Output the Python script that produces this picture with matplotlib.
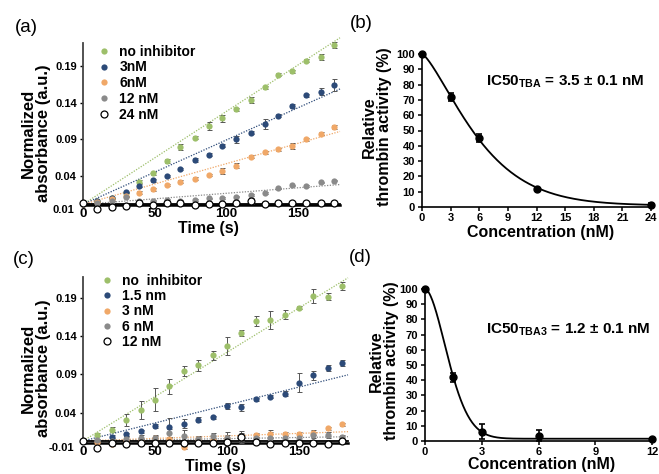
import numpy as np
import matplotlib
matplotlib.use("Agg")
from matplotlib import pyplot as plt

plt.rcParams['font.family'] = ['Liberation Sans', 'DejaVu Sans']
plt.rcParams['font.weight'] = 'bold'
plt.rcParams['mathtext.fontset'] = 'custom'
plt.rcParams['mathtext.rm'] = 'Liberation Sans:bold'
plt.rcParams['mathtext.bf'] = 'Liberation Sans:bold'

GREEN = '#9dbf6a'
BLUE = '#2c4a78'
ORANGE = '#f0a868'
GRAY = '#8a8a8a'

###############################
### panel (a) data
times_a = [0, 10, 20, 30, 39, 49, 59, 68, 78, 88, 97, 107, 117, 127, 136, 146, 156, 166, 175]
green_a = [0.0012, 0.0058, 0.0099, 0.0167, 0.0322, 0.0437, 0.0601, 0.0793, 0.0921, 0.1085,
           0.119, 0.1314, 0.1445, 0.1615, 0.1788, 0.1834, 0.1976, 0.2034, 0.2195]
blue_a = [0.0012, 0.0058, 0.0099, 0.0177, 0.0267, 0.0341, 0.040, 0.0496, 0.0615, 0.0688,
          0.0815, 0.0903, 0.0989, 0.1108, 0.1222, 0.1359, 0.1503, 0.1555, 0.1644]
orange_a = [0.0012, 0.0044, 0.0085, 0.0126, 0.0171, 0.0218, 0.0277, 0.0323, 0.0363, 0.0414,
            0.0473, 0.0541, 0.0664, 0.0724, 0.0765, 0.081, 0.0903, 0.098, 0.1067]
gray_a = [0.0012, 0.0037, 0.0064, 0.0112, 0.0058, 0.0064, 0.0071, 0.0064, 0.0071, 0.0092,
          0.0099, 0.0119, 0.014, 0.0167, 0.0229, 0.027, 0.0263, 0.0311, 0.0336]
open_a = [0.003, -0.0048, -0.0025, -0.0016, 0.003, 0.0007, 0.003, 0.003, 0.0007, 0.0012,
          0.0012, 0.003, 0.0058, 0.0012, 0.003, 0.003, 0.0035, 0.003, 0.0035]
green_a_err = [0, 0, 0, 0, 0.002, 0.002, 0.003, 0.004, 0.002, 0.006, 0.005, 0.002, 0.004,
               0.002, 0.002, 0.002, 0.002, 0.004, 0.004]
blue_a_err = [0, 0, 0, 0, 0.002, 0.002, 0.002, 0.002, 0.003, 0.002, 0.002, 0.005, 0.002,
              0.007, 0.002, 0.003, 0.002, 0.005, 0.008]
orange_a_err = [0, 0, 0, 0, 0.002, 0.002, 0.002, 0.002, 0.002, 0.002, 0.004, 0.003, 0.002,
                0.002, 0.002, 0.004, 0.002, 0.002, 0.003]
gray_a_err = [0, 0, 0, 0, 0.002, 0.001, 0.001, 0.001, 0.001, 0.001, 0.001, 0.001, 0.001,
              0.001, 0.001, 0.001, 0.001, 0.001, 0.001]
open_a_err = [0, 0, 0, 0, 0.002, 0, 0, 0, 0, 0, 0, 0, 0.004, 0, 0, 0, 0, 0, 0]
# linear fits (start value, slope per s)
fit_start_a = 0.0012
fit_slopes_a = [0.00127, 0.00088, 0.000556, 0.000151, 0.0]
labels_a = ['no inhibitor', '3nM', '6nM', '12 nM', '24 nM']

###############################
### panel (c) data
times_c = [0, 10, 20, 30, 40, 50, 60, 70, 80, 90, 100, 110, 120, 130, 140, 150, 160, 170, 180]
green_c = [0.003, 0.0112, 0.0177, 0.03, 0.0439, 0.057, 0.0746, 0.0946, 0.102, 0.1151,
           0.1273, 0.1439, 0.16, 0.1613, 0.1679, 0.1774, 0.1928, 0.1918, 0.2059]
blue_c = [0.003, 0.0023, 0.0088, 0.0117, 0.0154, 0.0223, 0.0206, 0.0255, 0.0307, 0.0341,
          0.0485, 0.0468, 0.0575, 0.0606, 0.0649, 0.0793, 0.0891, 0.0981, 0.1055]
orange_c = [0.003, 0.0016, -0.0014, 0.0043, 0.003, 0.0062, 0.0056, -0.0049, 0.0056, 0.0043,
            0.0062, 0.0075, 0.0108, 0.0121, 0.0121, 0.0121, 0.0138, 0.0196, 0.0248]
gray_c = [0.003, 0.004, 0.0035, 0.005, 0.0065, 0.0065, 0.013, 0.009, 0.006, 0.009,
          0.007, 0.008, 0.0065, 0.0065, 0.0065, 0.0065, 0.0108, 0.0108, 0.008]
open_c = [0.003, -0.0058, 0.0, -0.001, 0.0, 0.0, 0.0, 0.0, 0.0003, 0.0003,
          0.001, 0.008, 0.001, -0.001, 0.0, 0.0003, 0.0, -0.0005, 0.0023]
green_c_err = [0, 0.002, 0.003, 0.008, 0.012, 0.015, 0.01, 0.006, 0.007, 0.006, 0.012, 0.004,
               0.006, 0.012, 0.006, 0.002, 0.009, 0.005, 0.005]
blue_c_err = [0, 0.002, 0.002, 0.002, 0.002, 0.003, 0.012, 0.006, 0.003, 0.002, 0.004, 0.005,
              0.002, 0.002, 0.003, 0.012, 0.006, 0.004, 0.004]
orange_c_err = [0, 0.002, 0.002, 0.004, 0.003, 0.003, 0.003, 0.002, 0.003, 0.003, 0.004, 0.004,
                0.003, 0.005, 0.003, 0.003, 0.003, 0.002, 0.002]
gray_c_err = [0, 0.002, 0.002, 0.004, 0.004, 0.004, 0.006, 0.008, 0.004, 0.004, 0.008, 0.008,
              0.004, 0.008, 0.004, 0.004, 0.004, 0.004, 0.003]
open_c_err = [0, 0, 0, 0, 0, 0, 0, 0, 0, 0, 0.003, 0.005, 0, 0, 0, 0, 0, 0, 0]
fit_start_c = 0.003
fit_slopes_c = [0.00116, 0.00047, 0.000066, 0.00003, 0.0]
labels_c = ['no  inhibitor', '1.5 nm', '3 nM', '6 nM', '12 nM']

###############################
### panels (b) and (d) data
conc_b = [0, 3, 6, 12, 24]
act_b = [100, 72, 45, 12, 1.5]
err_b = [0.5, 2.5, 2.5, 1.0, 1.0]
curve_b = {'top': 100, 'bottom': 1.0, 'scale': 6.85, 'power': 1.35}

conc_d = [0, 1.5, 3, 6, 12]
act_d = [100, 42, 6, 3.5, 1.5]
err_d = [0.5, 3, 5, 3.5, 0.5]
curve_d = {'top': 100, 'bottom': 1.5, 'scale': 1.6, 'power': 1.8}

W, H = 659, 474
fig = plt.figure(figsize=(W / 100, H / 100), dpi=100)


def px_axes(left, top, right, bottom):
    return fig.add_axes([left / W, 1 - bottom / H, (right - left) / W, (bottom - top) / H])


def kinetics(ax, times, series, errs, slopes, start, labels, xmax, ylim, bottom_label):
    colors = [GREEN, BLUE, ORANGE, GRAY, 'black']
    tfit = np.array([0, xmax])
    for i in range(5):
        ls = '-' if i == 4 else (0, (1, 1.2))
        ax.plot(tfit, start + slopes[i] * tfit, ls=ls, color=colors[i],
                lw=1.3 if i == 4 else 0.9, zorder=2, clip_on=False)
    for i in range(5):
        ax.errorbar(times, series[i], yerr=errs[i], fmt='none', ecolor='#555555',
                    elinewidth=0.7, capsize=1.8, capthick=0.7, zorder=3, clip_on=False)
    for i in range(5):
        if i == 4:
            ax.plot(times, series[i], 'o', ms=5, mfc='white', mec='black', mew=0.9,
                    label=labels[i], zorder=4, clip_on=False)
        else:
            ax.plot(times, series[i], 'o', ms=4.5, color=colors[i], mec='none',
                    label=labels[i], zorder=4, clip_on=False)
    ax.set_xlim(0, xmax)
    ax.set_ylim(*ylim)
    ax.set_xticks([0, 50, 100, 150])
    ax.set_yticks([0.04, 0.09, 0.14, 0.19])
    ax.set_yticklabels(['0.04', '0.09', '0.14', '0.19'])
    ax.tick_params(axis='y', labelsize=8, length=2.5, width=1, pad=2)
    ax.tick_params(axis='x', labelsize=9.5, length=0, pad=2.5)
    ax.text(-0.035, 0.0, bottom_label, transform=ax.transAxes, ha='right', va='top',
            fontsize=8)
    for s in ['top', 'right']:
        ax.spines[s].set_visible(False)
    ax.spines['left'].set_linewidth(1.3)
    ax.spines['left'].set_color('#444444')
    ax.spines['bottom'].set_linewidth(1.8)
    ax.patch.set_alpha(0)


def inhibition(ax, conc, act, err, pars, xmax, xticks):
    xs = np.linspace(0, xmax, 400)
    ys = pars['bottom'] + (pars['top'] - pars['bottom']) * np.exp(-(xs / pars['scale']) ** pars['power'])
    ax.plot(xs, ys, color='black', lw=1.3, clip_on=False)
    ax.errorbar(conc, act, yerr=err, fmt='o', color='black', ms=5, elinewidth=1.2,
                capsize=2.5, capthick=1.2, clip_on=False)
    ax.set_xlim(0, xmax)
    ax.set_ylim(0, 100)
    ax.set_xticks(xticks)
    ax.set_yticks(range(0, 101, 10))
    ax.tick_params(axis='both', length=3, width=1.1, pad=2)
    ax.tick_params(axis='y', labelsize=8)
    ax.tick_params(axis='x', labelsize=8, pad=1.5)
    for s in ['top', 'right']:
        ax.spines[s].set_visible(False)
    for s in ['left', 'bottom']:
        ax.spines[s].set_linewidth(1.2)


ax_a = px_axes(83, 43, 340, 205)
kinetics(ax_a, times_a, [green_a, blue_a, orange_a, gray_a, open_a],
         [green_a_err, blue_a_err, orange_a_err, gray_a_err, open_a_err],
         fit_slopes_a, fit_start_a, labels_a, 179.5, (0.0003, 0.222), '0.01')
ax_a.legend(loc='upper left', bbox_to_anchor=(0.06, 0.99), frameon=False, fontsize=10,
            handlelength=0.8, handletextpad=0.7, labelspacing=0.13, borderpad=0,
            borderaxespad=0)

ax_c = px_axes(83, 277, 348, 443)
kinetics(ax_c, times_c, [green_c, blue_c, orange_c, gray_c, open_c],
         [green_c_err, blue_c_err, orange_c_err, gray_c_err, open_c_err],
         fit_slopes_c, fit_start_c, labels_c, 184, (0.0003, 0.2175), '-0.01')
ax_c.legend(loc='upper left', bbox_to_anchor=(0.07, 1.02), frameon=False, fontsize=10,
            handlelength=0.8, handletextpad=0.7, labelspacing=0.1, borderpad=0,
            borderaxespad=0)

ax_b = px_axes(422, 54, 651, 207)
inhibition(ax_b, conc_b, act_b, err_b, curve_b, 24, [0, 3, 6, 9, 12, 15, 18, 21, 24])
ax_b.text(0.28, 0.82, r'IC50$_{\mathbf{TBA}}$ = 3.5 $\pm$ 0.1 nM', transform=ax_b.transAxes,
          fontsize=11, va='center')

ax_d = px_axes(425, 289, 652, 441)
inhibition(ax_d, conc_d, act_d, err_d, curve_d, 12, [0, 3, 6, 9, 12])
ax_d.text(0.27, 0.73, r'IC50$_{\mathbf{TBA3}}$ = 1.2 $\pm$ 0.1 nM', transform=ax_d.transAxes,
          fontsize=11, va='center')

# axis titles and panel letters placed in pixels
def ftext(x, y, s, **kw):
    fig.text(x / W, 1 - y / H, s, **kw)

ftext(36, 133, 'Normalized\nabsorbance (a.u.)', rotation=90, ha='center', va='center',
      fontsize=12, linespacing=1.0)
ftext(36, 368, 'Normalized\nabsorbance (a.u.)', rotation=90, ha='center', va='center',
      fontsize=12, linespacing=1.0)
ftext(208, 229, 'Time (s)', ha='center', va='center', fontsize=11.5)
ftext(215, 466, 'Time (s)', ha='center', va='center', fontsize=11.5)
ftext(377, 127, 'Relative\nthrombin activity (%)', rotation=90, ha='center', va='center',
      fontsize=11.5, linespacing=1.0)
ftext(384, 361, 'Relative\nthrombin activity (%)', rotation=90, ha='center', va='center',
      fontsize=11.5, linespacing=1.0)
ftext(541, 233, 'Concentration (nM)', ha='center', va='center', fontsize=11.5)
ftext(542, 464, 'Concentration (nM)', ha='center', va='center', fontsize=11.5)

for lab, x, y in [('(a)', 26, 28), ('(b)', 361, 23), ('(c)', 24, 259), ('(d)', 360, 257)]:
    ftext(x, y, lab, ha='center', va='center', fontsize=13.5, fontweight='normal')

fig.savefig('out.png', dpi=100)
